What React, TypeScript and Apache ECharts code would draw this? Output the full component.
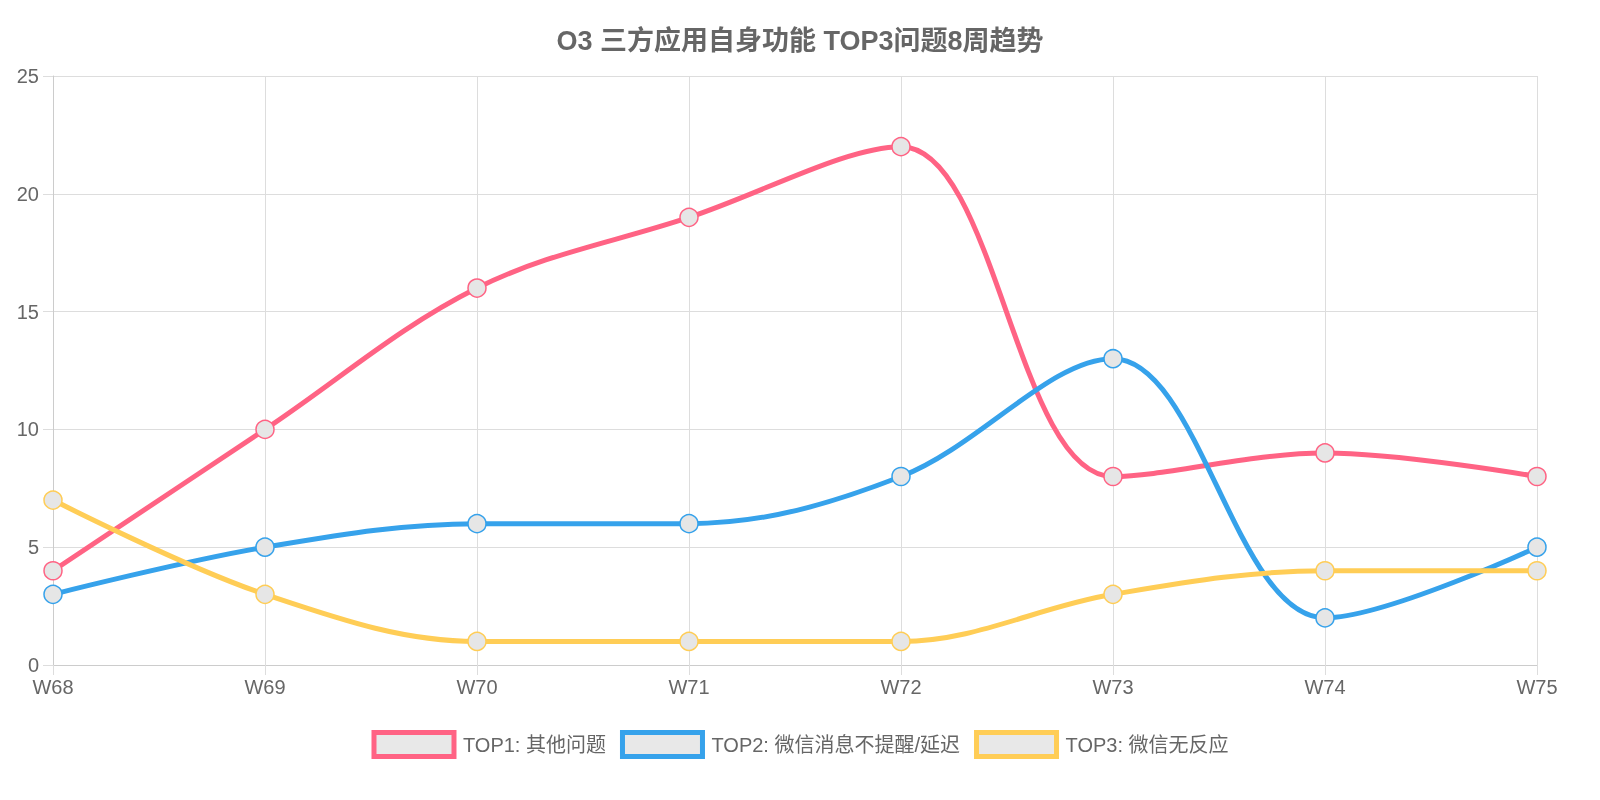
import React, { useEffect, useRef } from "react";
import * as echarts from "echarts";

const categories = ["W68", "W69", "W70", "W71", "W72", "W73", "W74", "W75"];
const top1 = [4, 10, 16, 19, 22, 8, 9, 8];
const top2 = [3, 5, 6, 6, 8, 13, 2, 5];
const top3 = [7, 3, 1, 1, 1, 3, 4, 4];
const names = ["TOP1: 其他问题", "TOP2: 微信消息不提醒/延迟", "TOP3: 微信无反应"];
const colors = ["#ff6384", "#36a2eb", "#ffcd56"];

export default function App() {
  const ref = useRef<HTMLDivElement>(null);
  useEffect(() => {
    document.body.style.overflow = "hidden";
    const chart = echarts.init(ref.current!, undefined, { renderer: "svg" });
    const font = "Arial, 'Liberation Sans', 'Noto Sans CJK SC', sans-serif";
    const mk = (name: string, data: number[], c: string) => ({
      name,
      type: "line",
      data,
      smooth: 0.35,
      symbol: "circle",
      symbolSize: 18,
      itemStyle: { color: "#e6e6e6", borderColor: c, borderWidth: 1.5 },
      lineStyle: { color: c, width: 5 },
      z: 3,
    });
    chart.setOption({
      animation: false,
      textStyle: { fontFamily: font },
      title: {
        text: "O3 三方应用自身功能 TOP3问题8周趋势",
        left: "center",
        top: 22,
        textStyle: { color: "#666", fontSize: 27, fontWeight: "bold", fontFamily: font },
      },
      legend: {
        bottom: 36,
        itemWidth: 80,
        itemHeight: 24,
        itemGap: 14,
        textStyle: { color: "#666", fontSize: 20, fontFamily: font, padding: [0, 0, 0, 4] },
        data: names.map((n, i) => ({
          name: n,
          icon: "rect",
          itemStyle: { color: "#e8e8e8", borderColor: colors[i], borderWidth: 5 },
        })),
      },
      grid: { left: 53, right: 63, top: 76, bottom: 135 },
      xAxis: {
        type: "category",
        data: categories,
        boundaryGap: false,
        axisLine: { lineStyle: { color: "#ccc" } },
        axisTick: { show: true, length: 10, lineStyle: { color: "#ddd" } },
        axisLabel: { color: "#666", fontSize: 20, margin: 12 },
        splitLine: { show: true, lineStyle: { color: "#ddd" } },
      },
      yAxis: {
        type: "value",
        min: 0,
        max: 25,
        interval: 5,
        axisLine: { show: true, lineStyle: { color: "#ccc" } },
        axisTick: { show: true, length: 10, lineStyle: { color: "#ddd" } },
        axisLabel: { color: "#666", fontSize: 20, margin: 14 },
        splitLine: { lineStyle: { color: "#ddd" } },
      },
      series: [mk(names[0], top1, colors[0]), mk(names[1], top2, colors[1]), mk(names[2], top3, colors[2])],
    });
    return () => chart.dispose();
  }, []);
  return <div ref={ref} style={{ position: "fixed", left: 0, top: 0, width: 1600, height: 800 }} />;
}
